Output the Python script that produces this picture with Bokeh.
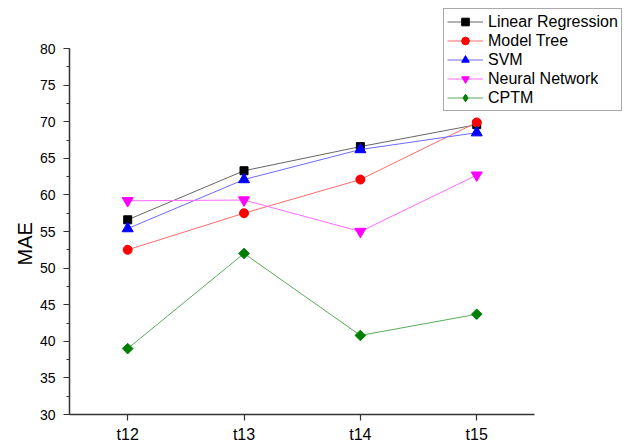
import math
from bokeh.plotting import figure
from bokeh.models import (Range1d, SingleIntervalTicker, FixedTicker, Legend, LegendItem, Title)
from bokeh.embed import file_html
from bokeh.resources import INLINE

categories = ["t12", "t13", "t14", "t15"]
linear_regression = [56.6, 63.3, 66.6, 69.6]
model_tree = [52.5, 57.5, 62.1, 69.9]
svm = [55.4, 62.1, 66.2, 68.5]
neural_network = [59.2, 59.3, 55.0, 62.7]
cptm = [39.0, 52.0, 40.8, 43.7]

x_pos = [12 + i for i in range(len(categories))]

FONT = "Liberation Sans"

p = figure(x_range=Range1d(11.5, 16.27), y_range=Range1d(30, 86.56),
           frame_width=555, frame_height=414,
           min_border_left=69, min_border_right=0, min_border_top=0, min_border_bottom=30,
           output_backend="svg", toolbar_location=None, tools="")
p.outline_line_color = None
p.xgrid.visible = False
p.ygrid.visible = False
p.background_fill_color = "white"
p.border_fill_color = "white"

series = [
    ("Linear Regression", linear_regression, "black", "#666666", "square", 8, 0),
    ("Model Tree", model_tree, "red", "#ff6a6a", "circle", 9, 0),
    ("SVM", svm, "blue", "#6a6aff", "triangle", 11, 0),
    ("Neural Network", neural_network, "magenta", "#ff6aff", "inverted_triangle", 11, 0),
    ("CPTM", cptm, "green", "#5aaa5a", "square", 7.5, math.pi / 4),
]

items = []
for name, vals, mcol, lcol, marker, size, ang in series:
    r1 = p.line(x_pos, vals, line_color=lcol, line_width=1)
    r2 = p.scatter(x_pos, vals, marker=marker, size=size, angle=ang,
                   fill_color=mcol, line_color=mcol)
    if ang:
        # legend-only stand-in (not drawn in the plot: NaN value)
        r2 = p.scatter(x_pos[:1], [float("nan")], marker="diamond", size=15,
                       fill_color=mcol, line_color=mcol)
    items.append(LegendItem(label=name, renderers=[r1, r2]))

legend = Legend(items=items, location=(374, 303), padding=3, spacing=0,
                label_height=19, glyph_height=19, glyph_width=36, label_standoff=5,
                label_text_font=FONT, label_text_font_size="16px", label_text_color="black",
                border_line_color="#555555", border_line_width=1,
                background_fill_color="white", background_fill_alpha=1,
                margin=0)
p.add_layout(legend, "center")

for ax in (p.xaxis, p.yaxis):
    ax.axis_line_color = "#333333"
    ax.axis_line_width = 1.5
    ax.major_tick_line_color = "#333333"
    ax.major_tick_line_width = 1.2
    ax.minor_tick_line_color = "#333333"
    ax.minor_tick_line_width = 1.2
    ax.major_tick_in = 0
    ax.major_tick_out = 6
    ax.minor_tick_in = 0
    ax.minor_tick_out = 3
    ax.major_label_text_font = FONT
    ax.major_label_text_color = "black"

p.yaxis.ticker = SingleIntervalTicker(interval=5, num_minor_ticks=2)
p.yaxis.bounds = (30, 80)
p.yaxis.major_label_text_font_size = "14px"
p.yaxis.major_label_standoff = 8

p.xaxis.ticker = FixedTicker(ticks=x_pos, minor_ticks=[])
p.xaxis.major_label_overrides = {x: c for x, c in zip(x_pos, categories)}
p.xaxis.bounds = (11.5, 15.5)
p.xaxis.major_label_text_font_size = "16px"
p.xaxis.major_label_standoff = 5

ytitle = Title(text="MAE", align="left", offset=149, vertical_align="middle",
               text_font=FONT, text_font_size="20px", text_font_style="normal",
               text_color="black", standoff=0)
p.add_layout(ytitle, "left")

open("out.html", "w").write(file_html(p, INLINE))
